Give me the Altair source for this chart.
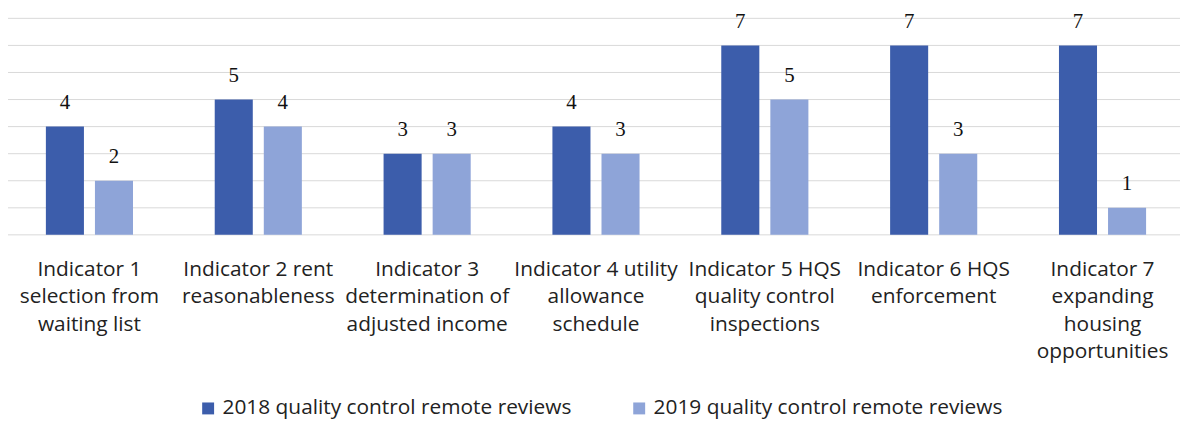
import altair as alt
import pandas as pd

categories = [
    "Indicator 1|selection from|waiting list",
    "Indicator 2 rent|reasonableness",
    "Indicator 3|determination of|adjusted income",
    "Indicator 4 utility|allowance|schedule",
    "Indicator 5 HQS|quality control|inspections",
    "Indicator 6 HQS|enforcement",
    "Indicator 7|expanding|housing|opportunities",
]
series = ["2018 quality control remote reviews", "2019 quality control remote reviews"]
values_2018 = [4, 5, 3, 4, 7, 7, 7]
values_2019 = [2, 4, 3, 3, 5, 3, 1]
grid_values = [0, 1, 2, 3, 4, 5, 6, 7, 8]
colors = ["#3C5DAB", "#8EA4D8"]

rows = []
for c, v in zip(categories, values_2018):
    rows.append({"category": c, "series": series[0], "value": v})
for c, v in zip(categories, values_2019):
    rows.append({"category": c, "series": series[1], "value": v})
df = pd.DataFrame(rows)
grid_df = pd.DataFrame({"g": grid_values})

y_scale = alt.Scale(domain=[0, 8], nice=False)

x_enc = alt.X(
    "category:N",
    sort=categories,
    scale=alt.Scale(paddingInner=0.484, paddingOuter=0.242),
    axis=alt.Axis(
        title=None,
        labelExpr="split(datum.label, '|')",
        labelAngle=0,
        labelFont="Open Sans",
        labelFontSize=21,
        labelLineHeight=27.5,
        labelColor="#222222",
        labelPadding=24,
        labelOverlap=False,
        labelLimit=300,
        labelBaseline="top",
        ticks=False,
        domain=False,
        grid=False,
    ),
)
xoff_enc = alt.XOffset("series:N", sort=series, scale=alt.Scale(paddingInner=0.2245, paddingOuter=0))

grid = alt.Chart(grid_df).mark_rule(color="#d9d9d9", strokeWidth=1).encode(
    y=alt.Y("g:Q", scale=y_scale, axis=None)
)

base = alt.Chart(df)
bars = base.mark_bar().encode(
    x=x_enc,
    xOffset=xoff_enc,
    y=alt.Y("value:Q", scale=y_scale, axis=None),
    color=alt.Color(
        "series:N",
        sort=series,
        scale=alt.Scale(domain=series, range=colors),
        legend=alt.Legend(
            orient="none",
            legendX=194,
            legendY=382,
            direction="horizontal",
            title=None,
            symbolType="square",
            symbolSize=144,
            symbolStrokeWidth=0,
            labelFont="Open Sans",
            labelFontSize=21,
            labelColor="#222222",
            labelLimit=500,
            columnPadding=57,
            labelOffset=4,
        ),
    ),
)
labels = base.mark_text(
    font="Liberation Serif", fontSize=21, baseline="alphabetic", dy=-18, color="#111111"
).encode(
    x=alt.X("category:N", sort=categories),
    xOffset=alt.XOffset("series:N", sort=series),
    y=alt.Y("value:Q", scale=y_scale),
    text=alt.Text("value:Q"),
)

chart = (
    alt.layer(grid, bars, labels)
    .properties(
        width=1190,
        height=218,
        autosize=alt.AutoSizeParams(type="none"),
        padding={"top": 9, "left": -3, "right": -7, "bottom": 188},
    )
    .configure_view(stroke=None)
)

chart.save("out.html", embed_options={"renderer": "svg", "actions": False})
